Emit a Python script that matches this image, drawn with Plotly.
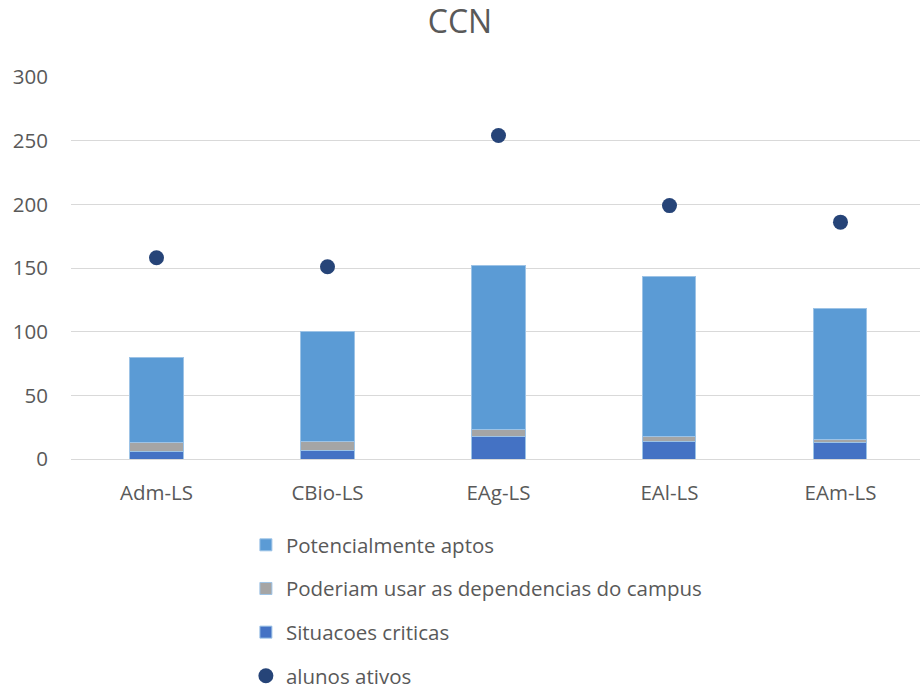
import plotly.graph_objects as go

categories = ["Adm-LS", "CBio-LS", "EAg-LS", "EAl-LS", "EAm-LS"]
situacoes_criticas = [6, 7, 18, 14, 13]
poderiam_usar = [7, 7, 5, 4, 2]
potencialmente_aptos = [67, 86, 129, 125, 103]
alunos_ativos = [158, 151, 254, 199, 186]

font_family = "Open Sans, Liberation Sans, sans-serif"
text_color = "#595959"

fig = go.Figure()
fig.add_trace(go.Bar(x=categories, y=situacoes_criticas, name="Situacoes criticas",
                     marker=dict(color="#4472C4", line=dict(color="#9DC3E6", width=1)),
                     legendrank=3, legendgroup="c"))
fig.add_trace(go.Bar(x=categories, y=poderiam_usar, name="Poderiam usar as dependencias do campus",
                     marker=dict(color="#A5A5A5", line=dict(color="#9DC3E6", width=1)),
                     legendrank=2, legendgroup="b"))
fig.add_trace(go.Bar(x=categories, y=potencialmente_aptos, name="Potencialmente aptos",
                     marker=dict(color="#5B9BD5", line=dict(color="#9DC3E6", width=1)),
                     legendrank=1, legendgroup="a"))
fig.add_trace(go.Scatter(x=categories, y=alunos_ativos, name="alunos ativos", mode="markers",
                         marker=dict(color="#264478", size=15),
                         legendrank=4, legendgroup="d"))

fig.update_layout(
    width=920, height=693,
    barmode="stack", bargap=0.69,
    plot_bgcolor="white", paper_bgcolor="white",
    margin=dict(l=71, r=0, t=77, b=234, autoexpand=False),
    font=dict(family=font_family, color=text_color, size=20),
    title=dict(text="CCN", x=0.5, xanchor="center", y=1 - 22 / 693, yanchor="middle",
               font=dict(size=32, color=text_color, family=font_family)),
    xaxis=dict(range=[-0.5, 4.465], showgrid=False, showline=True, linecolor="#D9D9D9",
               linewidth=1, ticks="", tickfont=dict(size=20.5, color=text_color),
               ticklabelstandoff=15),
    yaxis=dict(range=[0, 300], dtick=50, showgrid=True, gridcolor="#D9D9D9", gridwidth=1,
               zeroline=False, ticks="", tickfont=dict(size=20.5, color=text_color),
               ticklabelstandoff=22),
    legend=dict(orientation="v", x=0.206, xanchor="left",
                yref="container", y=1 - 525 / 693, yanchor="top",
                traceorder="grouped", tracegroupgap=14,
                font=dict(size=20.5, color=text_color), itemwidth=30),
    showlegend=True,
)

fig.write_html("out.html", config={"displayModeBar": False},
               post_script="document.body.style.margin='0';document.body.style.overflow='hidden';")
